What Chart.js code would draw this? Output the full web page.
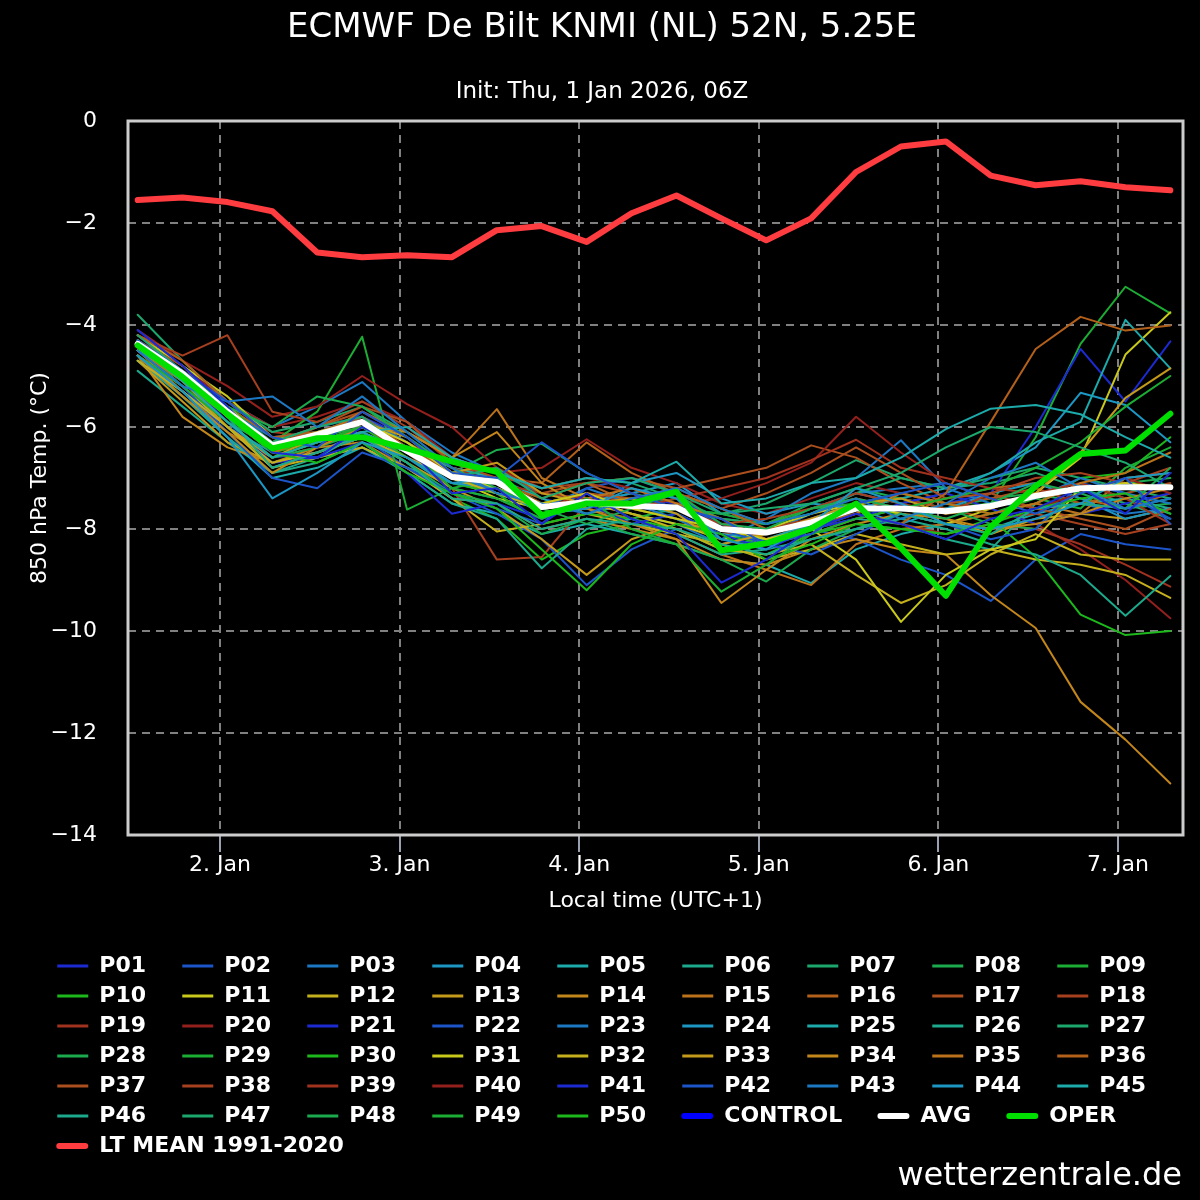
<!DOCTYPE html>
<html>
<head>
<meta charset="utf-8">
<title>ECMWF De Bilt KNMI (NL) 850 hPa ensemble</title>
<script src="https://cdn.jsdelivr.net/npm/chart.js@4.4.1/dist/chart.umd.min.js"></script>
<style>
  html, body { margin: 0; padding: 0; background: #000; }
  #wrap { width: 1200px; height: 1200px; position: relative; }
</style>
</head>
<body>
<div id="wrap"><canvas id="ensChart"></canvas></div>
<script>
// forecast steps, hours after 1 Jan 00:00 local time (UTC+1), every 6 h
const hours = [13, 19, 25, 31, 37, 43, 49, 55, 61, 67, 73, 79, 85, 91, 97, 103, 109, 115, 121, 127, 133, 139, 145, 151];
const dayTickHours = [24, 48, 72, 96, 120, 144];
const dayTickLabels = ['2. Jan', '3. Jan', '4. Jan', '5. Jan', '6. Jan', '7. Jan'];

// 850 hPa temperature (°C), ensemble members
const P01 = [-4.1, -4.8, -5.6, -6.5, -6.6, -6.0, -6.4, -7.3, -7.2, -7.9, -7.3, -7.8, -8.1, -9.05, -8.6, -8.0, -7.7, -7.9, -8.2, -7.8, -7.6, -7.2, -7.7, -6.9];
const P02 = [-4.3, -4.9, -5.5, -6.2, -6.4, -5.7, -6.2, -6.9, -7.0, -6.3, -6.9, -7.3, -7.6, -7.8, -8.3, -8.1, -7.5, -7.3, -7.1, -7.4, -7.7, -7.3, -7.0, -7.9];
const P03 = [-4.5, -5.2, -5.5, -5.4, -6.0, -5.4, -6.1, -6.8, -7.3, -7.5, -7.7, -7.4, -7.2, -7.6, -7.9, -7.7, -7.4, -7.8, -7.5, -7.0, -6.7, -7.2, -7.6, -7.4];
const P04 = [-4.6, -5.3, -6.2, -7.4, -6.9, -6.3, -6.6, -7.1, -7.0, -7.7, -7.6, -7.2, -7.4, -8.2, -8.4, -7.9, -7.2, -7.5, -7.9, -8.0, -7.8, -7.5, -7.0, -6.9];
const P05 = [-4.4, -5.1, -5.9, -6.6, -6.3, -6.1, -6.0, -6.6, -6.9, -7.2, -7.0, -7.1, -6.68, -7.5, -7.4, -7.1, -7.0, -6.6, -6.04, -5.64, -5.57, -5.75, -6.2, -6.6];
const P06 = [-4.5, -5.0, -5.8, -6.8, -6.5, -6.2, -6.7, -7.4, -7.5, -8.0, -7.8, -7.9, -8.0, -8.3, -8.5, -8.2, -8.0, -7.7, -7.9, -8.1, -7.6, -7.5, -7.6, -7.4];
const P07 = [-4.2, -4.9, -5.7, -6.3, -6.0, -5.8, -6.5, -7.0, -6.8, -7.4, -7.1, -7.0, -7.3, -7.7, -7.6, -7.5, -7.2, -6.9, -6.4, -6.0, -6.1, -6.4, -6.7, -7.2];
const P08 = [-4.3, -4.9, -5.6, -6.0, -5.4, -5.6, -6.2, -6.8, -7.2, -7.6, -7.9, -7.6, -7.3, -7.9, -8.0, -7.6, -7.4, -7.6, -7.8, -7.5, -7.1, -7.3, -7.6, -6.8];
const P09 = [-4.6, -5.2, -5.9, -6.6, -6.3, -6.0, -6.4, -7.2, -7.4, -7.8, -7.4, -8.0, -8.3, -9.23, -8.7, -8.1, -7.8, -7.6, -7.4, -7.2, -6.8, -6.3, -5.6, -5.0];
const P10 = [-4.4, -5.0, -5.8, -6.5, -6.7, -6.3, -6.9, -7.3, -7.6, -8.4, -9.2, -8.3, -7.9, -8.1, -8.6, -8.3, -7.9, -8.0, -8.1, -7.9, -7.6, -7.4, -7.3, -7.7];
const P11 = [-4.5, -5.0, -5.6, -6.4, -6.1, -5.9, -6.3, -6.9, -7.2, -7.5, -7.3, -7.6, -7.8, -8.0, -8.2, -8.0, -8.6, -9.82, -8.9, -8.4, -8.2, -7.2, -7.1, -7.2];
const P12 = [-4.7, -5.3, -6.0, -6.7, -6.5, -6.2, -6.6, -7.0, -7.3, -7.6, -7.5, -7.7, -8.0, -8.4, -8.5, -8.3, -8.9, -9.45, -9.1, -8.5, -8.1, -8.5, -8.6, -8.6];
const P13 = [-4.3, -5.1, -6.0, -6.6, -6.2, -5.9, -6.2, -6.9, -6.7, -7.3, -7.5, -7.4, -7.7, -8.3, -8.1, -7.8, -7.5, -7.4, -7.7, -7.6, -7.3, -6.5, -5.43, -4.85];
const P14 = [-4.6, -5.4, -6.1, -6.9, -6.4, -6.0, -6.1, -6.6, -6.1, -7.1, -7.6, -7.9, -8.2, -9.45, -8.8, -8.2, -7.9, -7.7, -7.8, -8.0, -7.9, -7.7, -7.4, -7.2];
const P15 = [-4.5, -5.1, -5.8, -6.5, -6.2, -5.7, -6.1, -6.6, -5.65, -7.0, -7.4, -7.2, -7.5, -7.8, -8.2, -8.0, -7.7, -7.3, -7.5, -7.7, -7.5, -7.1, -6.9, -6.5];
const P16 = [-4.2, -4.7, -5.5, -6.2, -6.1, -5.8, -6.4, -6.9, -7.1, -7.4, -7.1, -7.5, -7.3, -7.6, -8.0, -7.9, -7.7, -7.9, -7.3, -5.9, -4.47, -3.84, -4.11, -4.01];
const P17 = [-4.3, -4.8, -5.7, -6.4, -6.0, -5.6, -5.9, -6.7, -7.0, -7.5, -7.3, -7.4, -7.2, -7.6, -7.3, -6.9, -6.4, -6.9, -7.4, -7.3, -7.6, -7.8, -8.0, -7.6];
const P18 = [-4.2, -4.6, -4.2, -5.7, -5.9, -5.5, -6.0, -6.7, -6.9, -7.2, -7.1, -7.3, -7.6, -7.9, -7.8, -7.6, -7.3, -7.5, -7.7, -7.3, -7.0, -6.9, -7.1, -6.8];
const P19 = [-4.4, -5.0, -5.7, -6.3, -6.2, -5.7, -6.2, -6.8, -7.1, -7.3, -7.4, -7.6, -7.4, -7.2, -7.0, -6.65, -6.25, -6.8, -7.0, -7.2, -7.3, -7.1, -7.4, -7.9];
const P20 = [-4.1, -4.7, -5.2, -5.8, -5.6, -5.0, -5.55, -6.0, -6.8, -7.2, -7.0, -7.2, -7.5, -7.4, -7.1, -6.7, -5.8, -6.5, -7.1, -7.4, -7.6, -7.3, -7.0, -7.3];
const P21 = [-4.3, -5.0, -5.9, -6.7, -6.6, -6.3, -6.9, -7.7, -7.5, -7.8, -7.5, -7.9, -7.7, -8.1, -8.4, -8.0, -7.8, -7.5, -7.3, -7.6, -7.9, -7.7, -7.5, -7.3];
const P22 = [-4.5, -5.2, -6.1, -7.0, -7.2, -6.5, -6.8, -7.3, -7.6, -7.9, -7.2, -7.0, -7.3, -8.0, -8.3, -8.5, -8.1, -7.7, -7.9, -8.2, -8.0, -7.1, -7.3, -7.8];
const P23 = [-4.4, -5.0, -5.7, -6.2, -6.1, -5.8, -6.3, -6.9, -7.3, -7.6, -7.2, -7.5, -7.8, -8.2, -7.8, -7.3, -7.0, -6.26, -7.2, -7.5, -7.4, -7.0, -7.3, -7.5];
const P24 = [-4.7, -5.3, -6.0, -6.5, -6.6, -6.1, -6.5, -7.1, -7.2, -7.7, -7.6, -7.1, -6.9, -7.4, -7.7, -7.5, -7.6, -7.9, -7.6, -7.3, -7.1, -7.4, -7.8, -7.6];
const P25 = [-4.3, -5.0, -5.8, -6.4, -6.2, -5.9, -6.4, -6.8, -7.0, -7.4, -7.7, -7.5, -7.7, -8.1, -8.2, -7.9, -7.6, -7.4, -7.2, -6.9, -6.3, -5.9, -3.9, -4.85];
const P26 = [-4.6, -5.4, -6.2, -6.9, -6.7, -6.3, -6.9, -7.5, -7.8, -8.77, -8.0, -7.8, -8.1, -8.5, -8.4, -8.2, -8.0, -7.8, -8.0, -8.3, -8.5, -8.9, -9.7, -8.92];
const P27 = [-3.8, -4.7, -5.5, -6.1, -5.9, -5.6, -6.1, -6.6, -6.9, -7.2, -7.0, -7.1, -7.4, -7.8, -7.9, -7.7, -7.3, -7.0, -7.2, -7.0, -6.8, -7.0, -7.2, -7.4];
const P28 = [-4.5, -5.1, -5.9, -6.6, -6.4, -6.1, -6.7, -7.3, -7.5, -8.1, -7.8, -8.1, -8.3, -8.6, -9.03, -8.4, -8.0, -7.8, -7.6, -7.9, -8.0, -7.2, -7.1, -7.0];
const P29 = [-4.4, -4.9, -5.6, -6.3, -5.7, -4.23, -7.62, -7.2, -7.0, -7.5, -7.3, -7.8, -7.6, -7.7, -7.9, -7.6, -7.5, -7.3, -7.5, -7.7, -7.4, -7.6, -6.8, -6.4];
const P30 = [-4.5, -5.0, -5.7, -6.5, -6.3, -6.0, -6.6, -7.1, -7.3, -7.9, -7.7, -7.8, -8.0, -8.4, -8.5, -8.1, -7.9, -8.0, -8.1, -7.8, -8.55, -9.68, -10.08, -10.0];
const P31 = [-4.2, -4.8, -5.4, -6.2, -6.3, -6.1, -6.5, -7.0, -7.4, -7.6, -7.4, -7.7, -7.9, -8.2, -8.0, -7.7, -7.5, -7.7, -7.9, -7.6, -7.3, -6.6, -4.58, -3.75];
const P32 = [-4.6, -5.2, -6.0, -6.8, -6.6, -6.4, -6.8, -7.4, -8.05, -7.9, -7.7, -7.9, -8.1, -8.3, -8.6, -8.4, -8.1, -8.3, -8.5, -8.4, -8.6, -8.7, -8.9, -9.35];
const P33 = [-4.7, -5.5, -6.3, -6.7, -6.5, -6.2, -6.7, -7.2, -7.6, -8.2, -8.9, -8.2, -7.9, -8.0, -8.3, -8.1, -7.8, -7.6, -7.8, -8.1, -7.8, -7.7, -7.8, -7.6];
const P34 = [-4.6, -5.8, -6.4, -6.7, -6.4, -6.3, -6.8, -7.4, -7.5, -8.0, -7.8, -8.0, -8.2, -8.6, -8.7, -8.4, -8.2, -8.4, -8.5, -9.3, -9.94, -11.39, -12.13, -12.99];
const P35 = [-4.5, -5.3, -6.1, -6.6, -6.3, -6.0, -6.4, -7.0, -7.2, -7.7, -7.6, -7.8, -8.1, -8.5, -8.8, -9.1, -8.3, -8.0, -7.9, -7.7, -7.5, -7.7, -7.0, -6.9];
const P36 = [-4.4, -5.0, -5.6, -6.2, -6.2, -5.8, -6.3, -6.8, -7.0, -7.1, -6.3, -6.9, -7.3, -7.6, -7.9, -7.6, -7.4, -7.6, -7.4, -7.2, -7.1, -7.4, -7.6, -7.3];
const P37 = [-4.3, -5.0, -5.8, -6.3, -6.0, -5.7, -6.2, -6.9, -6.8, -7.3, -7.1, -7.0, -7.2, -7.0, -6.8, -6.36, -6.6, -7.1, -7.5, -7.4, -7.2, -7.5, -7.3, -7.1];
const P38 = [-4.5, -5.1, -5.9, -6.6, -6.4, -6.0, -6.5, -7.2, -8.6, -8.55, -7.5, -7.6, -7.8, -8.1, -8.0, -7.8, -7.6, -7.4, -7.6, -7.8, -7.7, -7.9, -8.1, -7.9];
const P39 = [-4.4, -5.0, -5.7, -6.1, -6.2, -5.9, -6.3, -7.0, -7.2, -7.6, -7.3, -7.5, -7.6, -7.9, -8.2, -7.9, -7.7, -7.9, -8.1, -7.9, -8.0, -8.3, -8.7, -9.13];
const P40 = [-4.2, -4.8, -5.5, -6.0, -5.8, -5.5, -5.9, -6.6, -6.9, -6.8, -6.24, -6.8, -7.1, -7.5, -7.7, -7.4, -7.1, -7.3, -7.5, -7.6, -7.9, -8.4, -9.0, -9.75];
const P41 = [-4.2, -4.9, -5.6, -6.3, -6.0, -5.8, -6.2, -6.8, -7.0, -7.4, -7.6, -7.4, -7.5, -7.9, -8.1, -7.8, -7.5, -7.3, -7.5, -7.3, -6.0, -4.47, -5.5, -4.32];
const P42 = [-4.5, -5.2, -6.0, -6.6, -6.5, -6.2, -6.8, -7.3, -7.7, -8.2, -9.1, -8.4, -8.0, -8.4, -8.2, -8.0, -8.2, -8.6, -8.9, -9.41, -8.6, -8.1, -8.3, -8.4];
const P43 = [-4.3, -4.9, -5.5, -6.0, -5.6, -5.12, -5.9, -6.5, -6.9, -7.3, -7.4, -7.7, -7.9, -8.3, -8.1, -7.7, -7.3, -7.2, -7.1, -7.4, -7.6, -7.5, -7.7, -7.6];
const P44 = [-4.6, -5.3, -6.0, -6.8, -6.5, -6.1, -6.6, -7.2, -7.4, -7.8, -7.5, -7.3, -7.1, -7.7, -7.9, -7.6, -7.3, -7.5, -7.3, -6.9, -6.4, -5.33, -5.57, -6.3];
const P45 = [-4.7, -5.4, -6.2, -7.0, -6.8, -6.4, -6.9, -7.5, -7.7, -8.1, -7.9, -8.1, -8.3, -8.6, -8.7, -9.06, -8.4, -8.1, -7.9, -8.0, -7.7, -7.5, -7.4, -7.7];
const P46 = [-4.9, -5.6, -6.3, -6.9, -6.6, -6.4, -6.8, -7.1, -7.3, -7.6, -7.4, -7.6, -7.8, -8.2, -8.3, -8.0, -7.8, -7.9, -8.2, -8.4, -7.5, -7.1, -7.4, -7.6];
const P47 = [-4.4, -5.1, -5.9, -6.4, -6.1, -5.8, -6.3, -6.9, -7.1, -7.7, -7.5, -7.3, -7.6, -7.7, -7.5, -7.1, -6.65, -7.0, -7.2, -7.1, -6.9, -7.2, -7.5, -7.8];
const P48 = [-4.3, -4.9, -5.7, -6.4, -6.2, -6.0, -6.5, -6.9, -6.45, -6.33, -6.9, -7.3, -7.5, -7.8, -7.9, -7.5, -7.2, -7.4, -7.6, -7.4, -7.3, -7.5, -7.6, -7.5];
const P49 = [-4.5, -5.0, -5.8, -6.3, -6.2, -5.9, -6.4, -7.0, -7.3, -7.6, -7.4, -7.6, -7.4, -7.9, -8.1, -7.8, -7.5, -7.4, -7.6, -7.5, -6.2, -4.37, -3.25, -3.77];
const P50 = [-4.4, -5.2, -6.0, -6.7, -6.5, -6.2, -6.7, -7.4, -7.8, -8.6, -8.1, -7.9, -7.7, -8.1, -8.3, -7.9, -7.6, -7.7, -7.9, -7.7, -7.5, -7.0, -6.9, -6.2];

const memberSeries = [P01, P02, P03, P04, P05, P06, P07, P08, P09, P10,
                      P11, P12, P13, P14, P15, P16, P17, P18, P19, P20,
                      P21, P22, P23, P24, P25, P26, P27, P28, P29, P30,
                      P31, P32, P33, P34, P35, P36, P37, P38, P39, P40,
                      P41, P42, P43, P44, P45, P46, P47, P48, P49, P50];

const controlValues = []; // no control run line visible in the picture
const avgValues = [-4.37, -4.95, -5.7, -6.36, -6.15, -5.9, -6.47, -6.98, -7.08, -7.57, -7.47, -7.55, -7.58, -8.0, -8.07, -7.87, -7.6, -7.6, -7.65, -7.55, -7.35, -7.2, -7.18, -7.18];
const operValues = [-4.4, -5.02, -5.75, -6.42, -6.22, -6.2, -6.42, -6.68, -6.88, -7.73, -7.5, -7.5, -7.27, -8.42, -8.28, -7.99, -7.5, -8.37, -9.31, -7.96, -7.16, -6.53, -6.46, -5.74];
const ltMeanValues = [-1.55, -1.5, -1.59, -1.77, -2.58, -2.67, -2.63, -2.67, -2.14, -2.06, -2.37, -1.81, -1.46, -1.91, -2.34, -1.91, -1.0, -0.5, -0.4, -1.07, -1.26, -1.18, -1.3, -1.36];

// member colour cycle (repeats every 20 members)
const memberColors = [
  '#1c2bd1', '#1c55c9', '#1c78c2', '#1c97c4', '#1caaab',
  '#1ca98c', '#1ca86c', '#1caa4e', '#1cae34', '#1cb81c',
  '#c9c91c', '#c4b01c', '#c49a1a', '#c2861a', '#bb721a',
  '#b3601a', '#ab4f1e', '#a6401f', '#a0321e', '#93201c'
];

Chart.defaults.font.family = "'DejaVu Sans', sans-serif";
Chart.defaults.color = '#ffffff';

// legend columns are 125px apart, so the box width depends on the label width
const measure = document.createElement('canvas').getContext('2d');
measure.font = "bold 22px 'DejaVu Sans'";
const legendBox = 125 - 11 - 8 - measure.measureText('P01').width;

const datasets = memberSeries.map((vals, i) => ({
  label: 'P' + String(i + 1).padStart(2, '0'),
  data: vals,
  borderColor: memberColors[i % 20],
  borderWidth: 2,
  pointRadius: 0,
  order: 10,
  legendLine: 3
}));
datasets.push({ label: 'CONTROL', data: controlValues, borderColor: '#0000ff', borderWidth: 6, pointRadius: 0, order: 4, legendLine: 6 });
datasets.push({ label: 'AVG', data: avgValues, borderColor: '#ffffff', borderWidth: 6, pointRadius: 0, order: 3, legendLine: 6 });
datasets.push({ label: 'OPER', data: operValues, borderColor: '#00e000', borderWidth: 6, pointRadius: 0, order: 2, legendLine: 6 });
datasets.push({ label: 'LT MEAN 1991-2020', data: ltMeanValues, borderColor: '#ff3c40', borderWidth: 6, pointRadius: 0, order: 1, legendLine: 6 });

const frameAndCredit = {
  id: 'frameAndCredit',
  beforeDraw(chart) {
    const ctx = chart.ctx;
    ctx.save();
    ctx.fillStyle = '#000';
    ctx.fillRect(0, 0, chart.width, chart.height);
    ctx.restore();
  },
  afterDatasetsDraw(chart) {
    const { ctx, chartArea: a } = chart;
    ctx.save();
    ctx.strokeStyle = '#cccccc';
    ctx.lineWidth = 3;
    ctx.strokeRect(a.left, a.top, a.right - a.left, a.bottom - a.top);
    ctx.restore();
  },
  afterDraw(chart) {
    const ctx = chart.ctx;
    ctx.save();
    ctx.font = "32px 'DejaVu Sans'";
    ctx.fillStyle = '#ffffff';
    ctx.textAlign = 'right';
    ctx.textBaseline = 'middle';
    ctx.fillText('wetterzentrale.de', 1182, 1177);
    ctx.restore();
  }
};

new Chart(document.getElementById('ensChart'), {
  type: 'line',
  data: { labels: hours, datasets: datasets },
  options: {
    responsive: true,
    maintainAspectRatio: false,
    devicePixelRatio: 1,
    animation: false,
    events: [],
    layout: { padding: { left: 21, right: 17, top: 0, bottom: 33 } },
    elements: { line: { tension: 0, borderJoinStyle: 'round', borderCapStyle: 'round' } },
    plugins: {
      title: {
        display: true,
        text: 'ECMWF De Bilt KNMI (NL) 52N, 5.25E',
        color: '#ffffff',
        font: { size: 34, weight: 'normal' },
        padding: { top: 7.6, bottom: 10 }
      },
      subtitle: {
        display: true,
        text: 'Init: Thu, 1 Jan 2026, 06Z',
        color: '#ffffff',
        font: { size: 23, weight: 'normal' },
        padding: { top: 19.8, bottom: 15.2 }
      },
      legend: {
        position: 'bottom',
        align: 'start',
        labels: {
          color: '#ffffff',
          font: { size: 22, weight: 'bold' },
          boxWidth: legendBox,
          boxHeight: 0,
          padding: 8,
          generateLabels: (chart) => chart.data.datasets.map((ds, i) => ({
            text: ds.label,
            fontColor: '#ffffff',
            fillStyle: 'rgba(0,0,0,0)',
            strokeStyle: ds.borderColor,
            lineWidth: ds.legendLine,
            lineCap: ds.legendLine > 4 ? 'round' : 'butt',
            lineDash: ds.legendLine > 4 ? [26, 1000] : [31, 1000],
            lineDashOffset: ds.legendLine > 4 ? -(legendBox - 29) : -(legendBox - 31),
            hidden: false,
            datasetIndex: i
          }))
        }
      },
      tooltip: { enabled: false }
    },
    scales: {
      x: {
        type: 'linear',
        min: 11.71,
        max: 152.69,
        afterBuildTicks: (scale) => { scale.ticks = dayTickHours.map(v => ({ value: v })); },
        afterFit: (scale) => { scale.height = 112; },
        ticks: {
          autoSkip: false,
          maxRotation: 0,
          padding: 0,
          color: '#ffffff',
          font: { size: 22 },
          callback: (value, index) => dayTickLabels[index]
        },
        grid: {
          color: '#808080',
          lineWidth: 2,
          drawTicks: true,
          tickLength: 17,
          tickColor: '#ccd6eb',
          tickWidth: 1.5
        },
        border: { display: false, dash: [8, 6] },
        title: {
          display: true,
          text: 'Local time (UTC+1)',
          color: '#ffffff',
          font: { size: 22 },
          padding: { top: 0, bottom: 33 }
        }
      },
      y: {
        min: -14,
        max: 0,
        afterFit: (scale) => { scale.width = 107; },
        ticks: {
          stepSize: 2,
          padding: 31,
          color: '#ffffff',
          font: { size: 22 },
          callback: (value) => value === 0 ? '0' : '\u2212' + Math.abs(value)
        },
        grid: { color: '#808080', lineWidth: 2, drawTicks: false },
        border: { display: false, dash: [8, 6] },
        title: {
          display: true,
          text: '850 hPa Temp. (°C)',
          color: '#ffffff',
          font: { size: 22 },
          padding: { top: 6, bottom: 0 }
        }
      }
    }
  },
  plugins: [frameAndCredit]
});
</script>
</body>
</html>
